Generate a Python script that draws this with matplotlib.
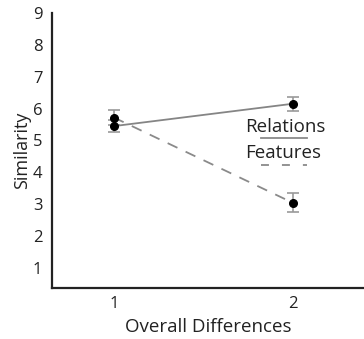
import matplotlib
matplotlib.use("Agg")
import matplotlib.pyplot as plt

plt.rcParams['font.family'] = ['Open Sans', 'DejaVu Sans']

conditions = [1, 2]
relations = [5.45, 6.15]
relations_err = [0.2, 0.22]
features = [5.72, 3.05]
features_err = [0.22, 0.3]

fig = plt.figure(figsize=(3.64, 3.39), dpi=100)
ax = fig.add_axes([0.143, 0.150, 0.857, 0.812])

ax.errorbar(conditions, relations, yerr=relations_err, color='#858585', lw=1.3,
            ecolor='#999999', elinewidth=1.2, capsize=4, capthick=1.2,
            marker='o', mfc='black', mec='black', ms=5.5, zorder=3)
ax.errorbar(conditions, features, yerr=features_err, color='#8a8a8a', lw=1.3,
            ls=(0, (6, 5)), ecolor='#999999', elinewidth=1.2, capsize=4, capthick=1.2,
            marker='o', mfc='black', mec='black', ms=5.5, zorder=3)

# legend: text with line sample underneath
ax.text(0.62, 0.585, 'Relations', transform=ax.transAxes, fontsize=13.5,
        color='#222222', va='center', ha='left')
ax.plot([0.67, 0.817], [0.545, 0.545], transform=ax.transAxes, color='#8a8a8a', lw=1.3)
ax.text(0.62, 0.492, 'Features', transform=ax.transAxes, fontsize=13.5,
        color='#222222', va='center', ha='left')
ax.plot([0.67, 0.817], [0.447, 0.447], transform=ax.transAxes, color='#8a8a8a',
        lw=1.3, ls=(0, (4.4, 7.2)))

ax.set_xlim(0.654, 2.4)
ax.set_ylim(0.37, 9)
ax.set_xticks(conditions)
ax.set_yticks(range(1, 10))
ax.tick_params(length=0, labelsize=12, colors='#222222', pad=7)
ax.tick_params(axis='x', pad=6)
for s in ['top', 'right']:
    ax.spines[s].set_visible(False)
for s in ['left', 'bottom']:
    ax.spines[s].set_linewidth(1.6)
    ax.spines[s].set_color('#222222')

ax.set_xlabel('Overall Differences', fontsize=13.5, color='#222222', labelpad=4)
ax.set_ylabel('Similarity', fontsize=13, color='#222222', labelpad=1)

fig.savefig('out.png', dpi=100)
